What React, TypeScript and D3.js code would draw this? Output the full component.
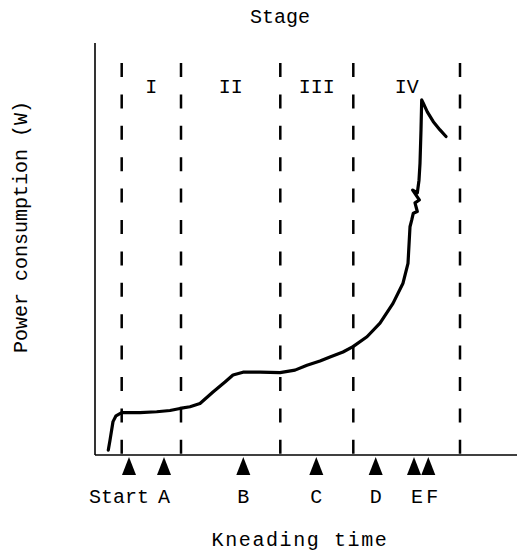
import React from 'react'
import * as d3 from 'd3'

// stage boundaries and markers, in kneading-time units
const stageBounds = [2.67, 8.6, 18.53, 25.83, 36.5]
const stageNames = ['I', 'II', 'III', 'IV']
const markerNames = ['Start', 'A', 'B', 'C', 'D', 'E', 'F']
const markerTimes = [3.4, 6.9, 14.83, 22.13, 28.07, 31.9, 33.33]

// power curve
const curveTime = [
  1.33, 1.5, 1.8, 2.1, 2.67, 4.5, 6.17, 7.5, 8.5, 9.5, 10.5, 11.8, 13.0, 13.8,
  14.8, 16.5, 18.5, 20.0, 21.2, 22.5, 23.5, 24.8, 25.8, 27.2, 28.5, 29.8, 30.8,
  31.3, 31.5, 31.67, 31.83, 32.23, 32.0, 32.43, 31.77, 32.23, 32.4, 32.5, 32.6,
  32.67, 32.83, 33.23, 33.83, 34.5, 35.1,
]
const curvePower = [
  1.2, 3.6, 8.1, 9.5, 10.3, 10.3, 10.5, 10.8, 11.3, 11.7, 12.5, 15.3, 17.7, 19.4,
  20.1, 20.1, 20.0, 20.6, 21.8, 22.8, 23.8, 25.0, 26.3, 28.7, 32.0, 36.8, 41.7,
  46.5, 55.4, 57.0, 58.7, 59.1, 61.2, 61.9, 64.3, 63.6, 66.7, 70.8, 78.9,
  86.2, 85.4, 83.3, 80.9, 78.9, 77.3,
]

const W = 517
const H = 553
const FONT = '"Courier New", "Liberation Mono", monospace'

const labelShift = { Start: -10, E: 3, F: 4 }

export default function App() {
  const x = d3.scaleLinear().domain([0, 42.2]).range([95, W])
  const y = d3.scaleLinear().domain([0, 100]).range([455, 43])

  const pts = curveTime.map((t, i) => [t, curvePower[i]])
  const line = d3.line()
    .x((d) => x(d[0]))
    .y((d) => y(d[1]))

  const dashTop = 63
  const x0 = x(0)
  const y0 = y(0)

  return (
    <div style={{ position: 'absolute', left: 0, top: 0 }}>
      <svg width={W} height={H} style={{ display: 'block', background: '#fff' }}>
        <text x={280} y={23} textAnchor="middle" fontFamily={FONT} fontSize={20}>Stage</text>

        {/* axes */}
        <line x1={x0} y1={y(100)} x2={x0} y2={y0} stroke="#000" strokeWidth={1.6} />
        <line x1={x0} y1={y0} x2={x(42.2)} y2={y0} stroke="#000" strokeWidth={1.6} />

        {/* stage separators */}
        {stageBounds.map((t) => (
          <line
            key={t}
            x1={x(t)} y1={dashTop} x2={x(t)} y2={y0}
            stroke="#000" strokeWidth={2.5} strokeDasharray="14 17.4"
          />
        ))}
        {stageNames.map((s, i) => (
          <text
            key={s}
            x={x((stageBounds[i] + stageBounds[i + 1]) / 2)} y={93}
            textAnchor="middle" fontFamily={FONT} fontSize={20}
          >
            {s}
          </text>
        ))}

        <path
          d={line(pts)}
          fill="none" stroke="#000" strokeWidth={3.2}
          strokeLinejoin="round" strokeLinecap="round"
        />

        {markerTimes.map((t, i) => {
          const cx = x(t)
          return (
            <path key={markerNames[i]} d={`M${cx - 7},475L${cx + 7},475L${cx},457Z`} fill="#000" />
          )
        })}
        {markerNames.map((m, i) => (
          <text
            key={m}
            x={x(markerTimes[i]) + (labelShift[m] || 0)} y={503}
            textAnchor="middle" fontFamily={FONT} fontSize={20}
          >
            {m}
          </text>
        ))}

        <text
          x={300} y={546} textAnchor="middle" fontFamily={FONT} fontSize={20}
          letterSpacing={1.6}
        >
          Kneading time
        </text>
        <text
          transform={`translate(27,227) rotate(-90)`}
          textAnchor="middle" fontFamily={FONT} fontSize={20}
        >
          Power consumption (W)
        </text>
      </svg>
    </div>
  )
}
